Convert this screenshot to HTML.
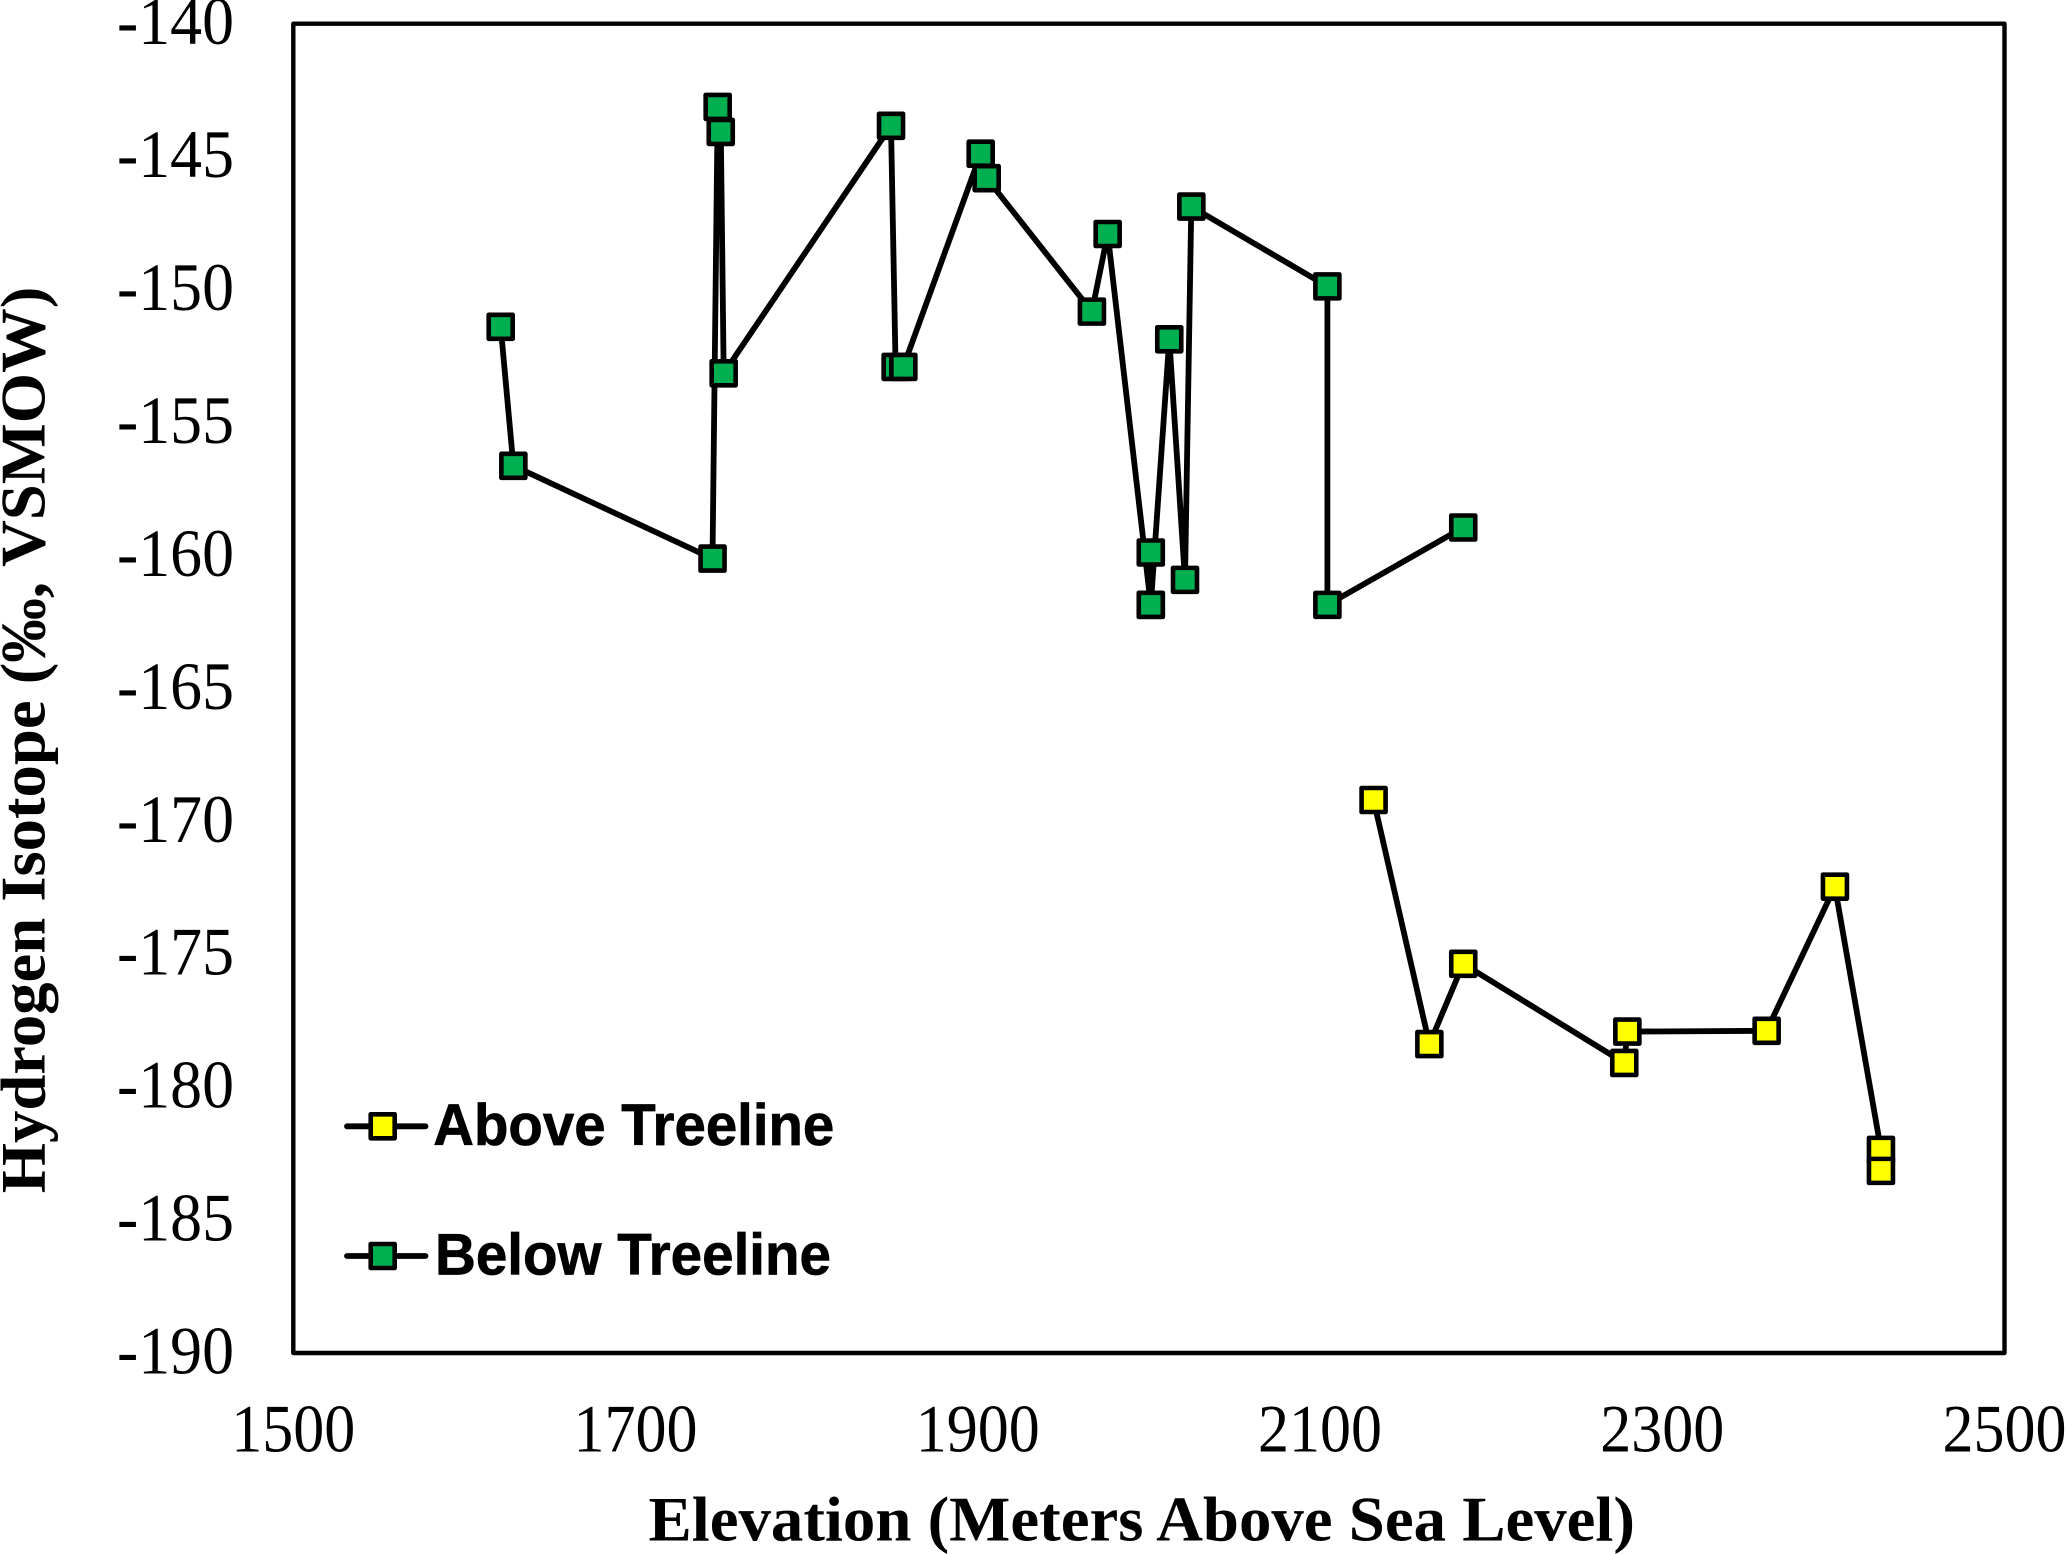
<!DOCTYPE html>
<html lang="en">
<head>
<meta charset="utf-8">
<title>Hydrogen Isotope vs Elevation</title>
<style>
html,body{margin:0;padding:0;background:#fff;width:2067px;height:1554px;overflow:hidden}
svg{display:block}
text{fill:#000}
.serif{font-family:"Liberation Serif",serif}
.sans{font-family:"Liberation Sans",sans-serif;font-weight:700;stroke:#000;stroke-width:.7px}
</style>
</head>
<body>
<svg id="chart" xmlns="http://www.w3.org/2000/svg" width="2067" height="1554" viewBox="0 0 2067 1554">
  <rect x="0" y="0" width="2067" height="1554" fill="#fff"/>
  <g id="ticks-y"></g>
  <g id="ticks-x"></g>
  <rect x="293.3" y="23.7" width="1711.2" height="1329.3" fill="none" stroke="#000" stroke-width="4.4" stroke-linejoin="round"/>
  <g id="series"></g>
  <text class="serif" x="648.5" y="1540.7" font-size="64" font-weight="700" textLength="986.5" lengthAdjust="spacingAndGlyphs">Elevation (Meters Above Sea Level)</text>
  <text class="serif" transform="translate(44.7 1193.3) rotate(-90)" x="0" y="0" font-size="64" font-weight="700" textLength="906.6" lengthAdjust="spacingAndGlyphs">Hydrogen Isotope (‰, VSMOW)</text>
  <g>
    <g>
      <line x1="347" y1="1126.3" x2="425.5" y2="1126.3" stroke="#000" stroke-width="5.8" stroke-linecap="round"/>
      <rect x="370.7" y="1114.3" width="24" height="24" fill="#FFFF00" stroke="#000" stroke-width="4.6" stroke-linejoin="round"/>
      <text class="sans" x="433.3" y="1145" font-size="58" textLength="401" lengthAdjust="spacingAndGlyphs">Above Treeline</text>
    </g>
    <g>
      <line x1="347" y1="1256" x2="425.5" y2="1256" stroke="#000" stroke-width="5.8" stroke-linecap="round"/>
      <rect x="370.7" y="1244" width="24" height="24" fill="#00B050" stroke="#000" stroke-width="4.6" stroke-linejoin="round"/>
      <text class="sans" x="435" y="1274.3" font-size="58" textLength="396" lengthAdjust="spacingAndGlyphs">Below Treeline</text>
    </g>
  </g>
</svg>
<script>
const xTicks = [1500, 1700, 1900, 2100, 2300, 2500];
const yTicks = [-140, -145, -150, -155, -160, -165, -170, -175, -180, -185, -190];

const belowElevation = [1621.2, 1628.6, 1745.0, 1748.0, 1749.8, 1751.5, 1849.3, 1852.0, 1856.5, 1901.7, 1905.2, 1966.7, 1975.9, 2001.1, 2001.1, 2001.1, 2011.9, 2021.1, 2024.8, 2104.3, 2104.3, 2183.7];
const belowIsotope = [-151.40, -156.63, -160.12, -143.13, -144.07, -153.15, -143.84, -152.91, -152.91, -144.89, -145.81, -150.83, -147.91, -161.86, -159.89, -161.86, -151.87, -160.92, -146.88, -149.88, -161.86, -158.95];

const aboveElevation = [2131.3, 2163.9, 2183.7, 2277.8, 2279.6, 2361.0, 2400.9, 2427.8, 2427.8];
const aboveIsotope = [-169.20, -178.38, -175.36, -179.09, -177.91, -177.88, -172.46, -182.36, -183.15];

const NS = 'http://www.w3.org/2000/svg';
const plot = { left: 293.3, right: 2004.5, top: 23.7, bottom: 1353 };
const xDomain = [1500, 2500];
const yDomain = [-140, -190];

function xScale(v) {
  return plot.left + (v - xDomain[0]) / (xDomain[1] - xDomain[0]) * (plot.right - plot.left);
}
function yScale(v) {
  return plot.top + (v - yDomain[0]) / (yDomain[1] - yDomain[0]) * (plot.bottom - plot.top);
}

const ticksY = document.getElementById('ticks-y');
yTicks.forEach(function (t) {
  const el = document.createElementNS(NS, 'text');
  
  
  el.setAttribute('class', 'serif');
  el.setAttribute('x', 117);
  el.setAttribute('y', yScale(t) + 20.5);
  el.setAttribute('font-size', 68);
  el.setAttribute('textLength', 117);
  el.setAttribute('lengthAdjust', 'spacingAndGlyphs');
  el.textContent = String(t);
  ticksY.appendChild(el);
});

const ticksX = document.getElementById('ticks-x');
xTicks.forEach(function (t) {
  const el = document.createElementNS(NS, 'text');
  
  
  el.setAttribute('class', 'serif');
  el.setAttribute('x', xScale(t) - 62);
  el.setAttribute('y', 1451.7);
  el.setAttribute('font-size', 68);
  el.setAttribute('textLength', 124);
  el.setAttribute('lengthAdjust', 'spacingAndGlyphs');
  el.textContent = String(t);
  ticksX.appendChild(el);
});

const seriesGroup = document.getElementById('series');

function drawSeries(xs, ys, fill) {
  const pts = xs.map(function (x, i) {
    return xScale(x).toFixed(1) + ',' + yScale(ys[i]).toFixed(1);
  }).join(' ');
  const line = document.createElementNS(NS, 'polyline');
  
  
  line.setAttribute('points', pts);
  line.setAttribute('fill', 'none');
  line.setAttribute('stroke', '#000');
  line.setAttribute('stroke-width', 5.8);
  line.setAttribute('stroke-linejoin', 'round');
  seriesGroup.appendChild(line);
  xs.forEach(function (x, i) {
    const m = document.createElementNS(NS, 'rect');
    
    
    m.setAttribute('x', xScale(x) - 12);
    m.setAttribute('y', yScale(ys[i]) - 12);
    m.setAttribute('width', 24);
    m.setAttribute('height', 24);
    m.setAttribute('fill', fill);
    m.setAttribute('stroke', '#000');
    m.setAttribute('stroke-width', 4.6);
    m.setAttribute('stroke-linejoin', 'round');
    seriesGroup.appendChild(m);
  });
}

drawSeries(belowElevation, belowIsotope, '#00B050');
drawSeries(aboveElevation, aboveIsotope, '#FFFF00');
</script>
</body>
</html>
